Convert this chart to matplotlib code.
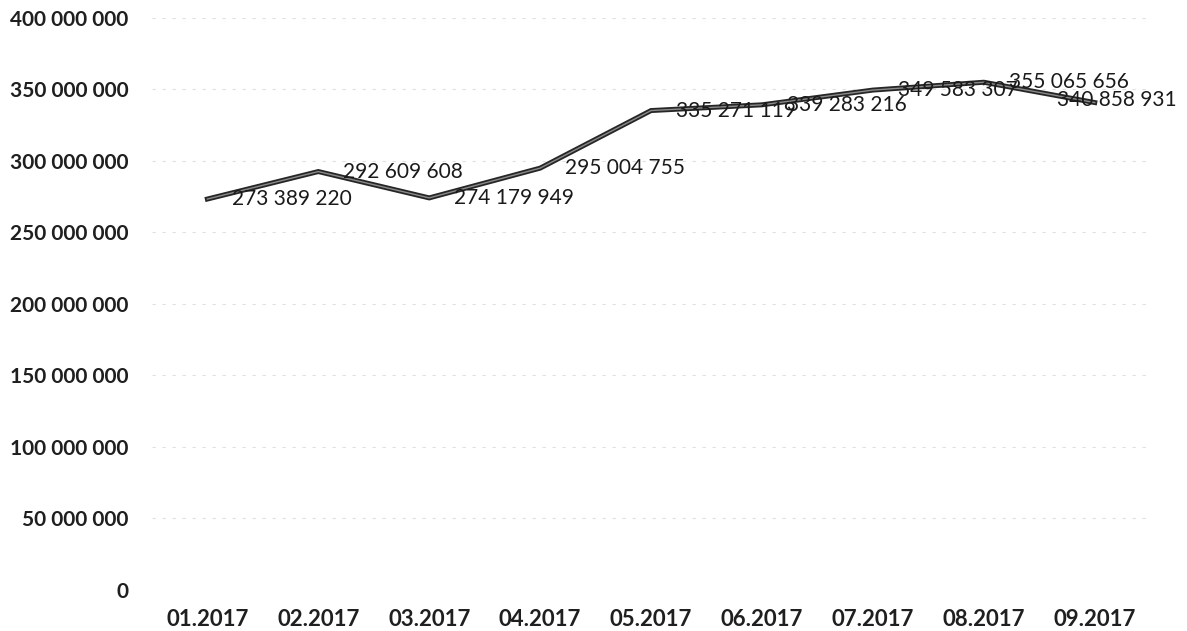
import matplotlib
matplotlib.use("Agg")
import matplotlib.pyplot as plt
from matplotlib.ticker import FuncFormatter, MultipleLocator

months = ["01.2017", "02.2017", "03.2017", "04.2017", "05.2017",
          "06.2017", "07.2017", "08.2017", "09.2017"]
values = [273389220, 292609608, 274179949, 295004755, 335271119,
          339283216, 349583307, 355065656, 340858931]


def spaced(v):
    return f"{int(round(v)):,}".replace(",", " ")


plt.rcParams["font.family"] = ["Lato", "DejaVu Sans"]

fig = plt.figure(figsize=(11.87, 6.31), dpi=100)
ax = fig.add_axes([0.128, 0.065, 0.841, 0.9065])

x = list(range(len(months)))
# dark outer stroke with a lighter core
ax.plot(x, values, color="#262626", linewidth=3.6, solid_joinstyle="miter",
        zorder=3)
ax.plot(x, values, color="#8a8a8a", linewidth=1.0, solid_joinstyle="miter",
        zorder=3)

# value labels sit to the right of each point; the last one is pulled left
# so that it stays inside the figure
for xi, v in zip(x, values):
    dx = 25 if xi < len(x) - 1 else -38
    dy = 0 if xi < len(x) - 1 else 3
    ax.annotate(spaced(v), (xi, v), xytext=(dx, dy), textcoords="offset pixels",
                ha="left", va="center", fontsize=15, color="#1a1a1a", zorder=4)

ax.set_xlim(-0.5, len(months) - 0.5)
ax.set_ylim(0, 400_000_000)
ax.yaxis.set_major_locator(MultipleLocator(50_000_000))
ax.yaxis.set_major_formatter(FuncFormatter(lambda v, p: spaced(v)))
ax.set_xticks(x)
ax.set_xticklabels(months)

ax.grid(axis="y", color="#e0e0e0", linewidth=0.8, linestyle=(0, (3, 6)))
ax.set_axisbelow(True)
for s in ax.spines.values():
    s.set_visible(False)
ax.tick_params(length=0)
ax.tick_params(axis="y", pad=17, labelsize=15, labelcolor="#1f1f1f")
ax.tick_params(axis="x", pad=14, labelsize=16, labelcolor="#1f1f1f")
for lbl in ax.get_xticklabels() + ax.get_yticklabels():
    lbl.set_fontweight("bold")

fig.savefig("out.png", dpi=100, facecolor="white")
